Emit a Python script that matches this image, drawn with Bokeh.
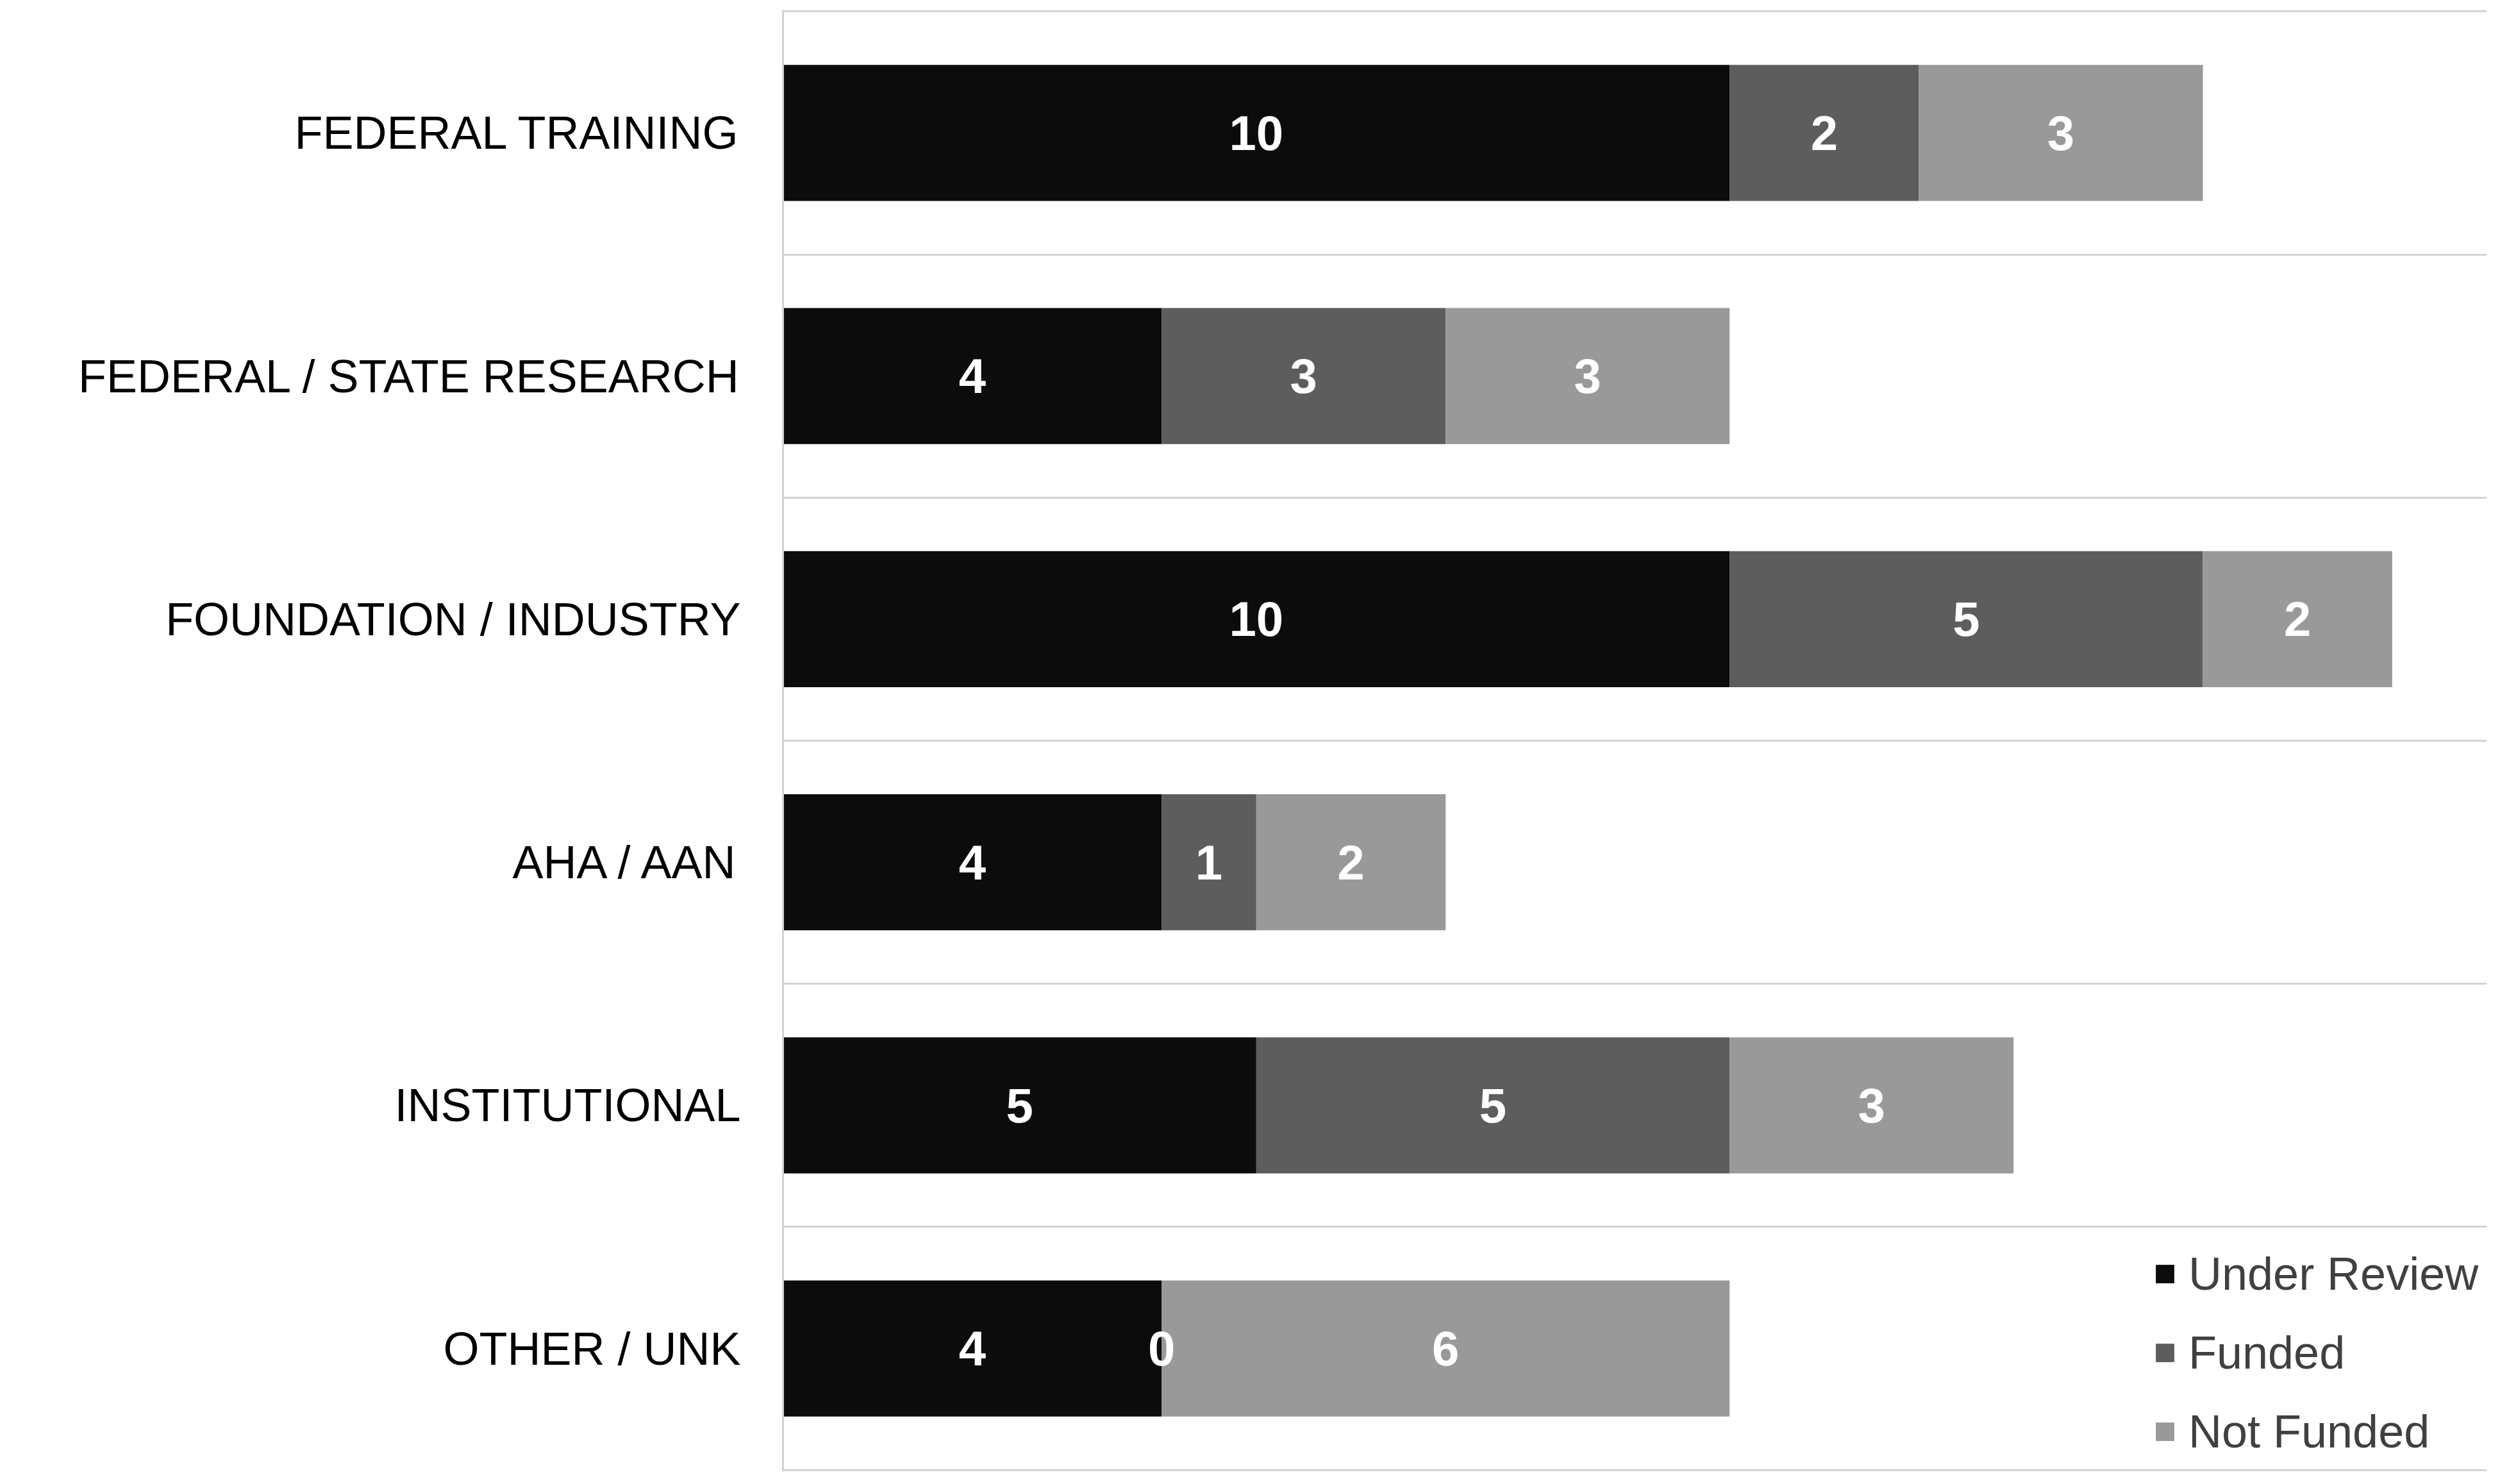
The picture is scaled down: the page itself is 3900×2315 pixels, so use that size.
from bokeh.plotting import figure
from bokeh.models import ColumnDataSource, FixedTicker
from bokeh.core.properties import value
from bokeh.embed import file_html
from bokeh.resources import INLINE

categories = ["FEDERAL TRAINING", "FEDERAL / STATE RESEARCH", "FOUNDATION / INDUSTRY",
              "AHA / AAN", "INSTITUTIONAL", "OTHER / UNK"]
under_review = [10, 4, 10, 4, 5, 4]
funded = [2, 3, 5, 1, 5, 0]
not_funded = [3, 3, 2, 2, 3, 6]
series_names = ["Under Review", "Funded", "Not Funded"]
colors = ["#0c0c0c", "#5d5d5d", "#999999"]

n = len(categories)
ypos = [n - i - 0.5 for i in range(n)]

source = ColumnDataSource(dict(y=ypos, ur=under_review, fu=funded, nf=not_funded))

p = figure(width=3884, height=2299, x_range=(0, 18), y_range=(-0.006, n + 0.006),
           output_backend="svg", toolbar_location=None,
           min_border_left=1221, min_border_top=15, min_border_bottom=4, min_border_right=5)
p.outline_line_color = None
p.background_fill_color = "white"

p.hbar_stack(["ur", "fu", "nf"], y="y", height=0.56, color=colors, line_color=None,
             source=source, legend_label=series_names)

# value labels
lx, ly, lt = [], [], []
for i in range(n):
    segs = [under_review[i], funded[i], not_funded[i]]
    left = 0
    for v in segs:
        lx.append(left + v / 2)
        ly.append(ypos[i])
        lt.append(str(v))
        left += v
p.text(x=lx, y=ly, text=lt, text_color="white", text_font=value("Liberation Sans"),
       text_font_style="bold", text_font_size="76px", text_align="center",
       text_baseline="middle")

p.xaxis.visible = False
p.xgrid.grid_line_color = None
p.ygrid.ticker = FixedTicker(ticks=list(range(0, n + 1)))
p.ygrid.grid_line_color = "#d2d2d2"
p.ygrid.grid_line_width = 3

yax = p.yaxis[0]
yax.ticker = FixedTicker(ticks=ypos)
yax.major_label_overrides = {y: c for y, c in zip(ypos, categories)}
yax.major_tick_line_color = None
yax.minor_tick_line_color = None
yax.axis_line_color = "#d2d2d2"
yax.axis_line_width = 3
yax.major_label_standoff = 60
yax.major_label_text_font = "Liberation Sans"
yax.major_label_text_font_size = "72px"
yax.major_label_text_color = "black"

lg = p.legend[0]
lg.location = (2138, 21)
lg.orientation = "vertical"
lg.background_fill_alpha = 0
lg.border_line_color = None
lg.glyph_width = 36
lg.glyph_height = 36
lg.label_text_font = "Liberation Sans"
lg.label_text_font_size = "72px"
lg.label_text_color = "#404040"
lg.label_standoff = 19
lg.spacing = 41
lg.padding = 0
lg.margin = 0

open("out.html", "w").write(file_html(p, INLINE))
